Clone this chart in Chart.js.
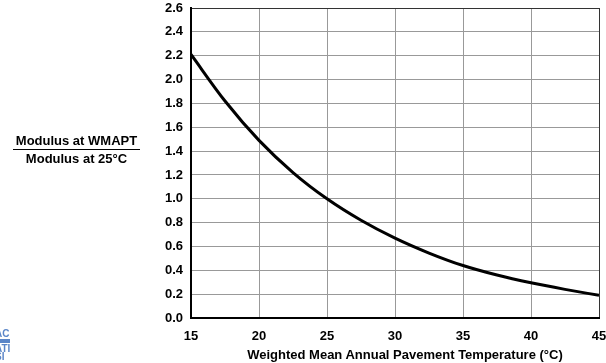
<!DOCTYPE html>
<html>
<head>
<meta charset="utf-8">
<script src="https://cdn.jsdelivr.net/npm/chart.js"></script>
<style>
  body { margin: 0; background: #fff; }
  #wrap { position: relative; width: 606px; height: 363px; overflow: hidden; font-family: "Liberation Sans", Arial, sans-serif; font-weight: bold; color: #000; }
  #tituloY { position: absolute; left: 13px; top: 133px; width: 127px; text-align: center; font-size: 13px; line-height: 15px; }
  #tituloY .num { border-bottom: 1.5px solid #000; padding-bottom: 1px; }
  #tituloY .den { padding-top: 1px; }
  #tituloX { position: absolute; left: 205px; width: 400px; top: 347px; text-align: center; font-size: 13px; line-height: 15px; }
  #logo { position: absolute; left: -5px; top: 330px; color: #5b86c8; font-size: 10px; line-height: 8px; }
  #logo .barra { width: 15px; height: 4px; background: #5b86c8; margin: 1px 0 2px 0; }
</style>
</head>
<body>
<div id="wrap">
  <canvas id="grafico"></canvas>
  <div id="tituloY"><div class="num">Modulus at WMAPT</div><div class="den">Modulus at 25°C</div></div>
  <div id="tituloX">Weighted Mean Annual Pavement Temperature (°C)</div>
  <div id="logo">AC<div class="barra"></div>ATI<br>SI</div>
</div>
<script>
// TEMPERATURAS (ºC) E RAZAO DO MODULO
const temperaturas = [15, 17.5, 20, 22.5, 25, 27.5, 30, 32.5, 35, 37.5, 40, 42.5, 45];
const razaoModulo = [2.21, 1.82, 1.49, 1.22, 1.00, 0.82, 0.67, 0.545, 0.44, 0.36, 0.295, 0.24, 0.19];

// MARCAS DOS EIXOS
const ticksX = [15, 20, 25, 30, 35, 40, 45];
const ticksY = [0, 0.2, 0.4, 0.6, 0.8, 1.0, 1.2, 1.4, 1.6, 1.8, 2.0, 2.2, 2.4, 2.6];

const fonteEixo = { family: "'Liberation Sans', Arial, sans-serif", size: 13, weight: 'bold' };

const pontos = temperaturas.map((t, i) => ({ x: t, y: razaoModulo[i] }));

const canvas = document.getElementById('grafico');
canvas.width = 606;
canvas.height = 363;

new Chart(canvas.getContext('2d'), {
  type: 'line',
  data: {
    datasets: [{
      data: pontos,
      borderColor: '#000',
      borderWidth: 3,
      pointRadius: 0,
      cubicInterpolationMode: 'monotone',
      fill: false
    }]
  },
  options: {
    responsive: false,
    animation: false,
    layout: { padding: 0 },
    plugins: { legend: { display: false }, tooltip: { enabled: false } },
    scales: {
      x: {
        type: 'linear',
        min: ticksX[0],
        max: ticksX[ticksX.length - 1],
        afterBuildTicks: (s) => { s.ticks = ticksX.map(v => ({ value: v })); },
        // ALTURA FIXA DO EIXO X E MARGEM DIREITA
        afterFit: (s) => { s.height = 45; s.paddingLeft = 0; s.paddingRight = 7; },
        ticks: { font: fonteEixo, color: '#000', padding: 11, maxRotation: 0 },
        grid: {
          drawTicks: false,
          lineWidth: 1,
          color: (c) => c.tick && c.tick.value === 45 ? '#333' : '#999'
        },
        border: { display: true, color: '#000', width: 2 }
      },
      y: {
        min: ticksY[0],
        max: ticksY[ticksY.length - 1],
        afterBuildTicks: (s) => { s.ticks = ticksY.map(v => ({ value: v })); },
        // LARGURA FIXA DO EIXO Y E MARGEM DE CIMA
        afterFit: (s) => { s.width = 191; s.paddingTop = 8; s.paddingBottom = 0; },
        ticks: { font: fonteEixo, color: '#000', padding: 8, callback: (v) => Number(v).toFixed(1) },
        grid: {
          drawTicks: false,
          lineWidth: 1,
          color: (c) => c.tick && Math.abs(c.tick.value - 2.6) < 1e-6 ? '#333' : '#999'
        },
        border: { display: true, color: '#000', width: 2 }
      }
    }
  }
});
</script>
</body>
</html>
